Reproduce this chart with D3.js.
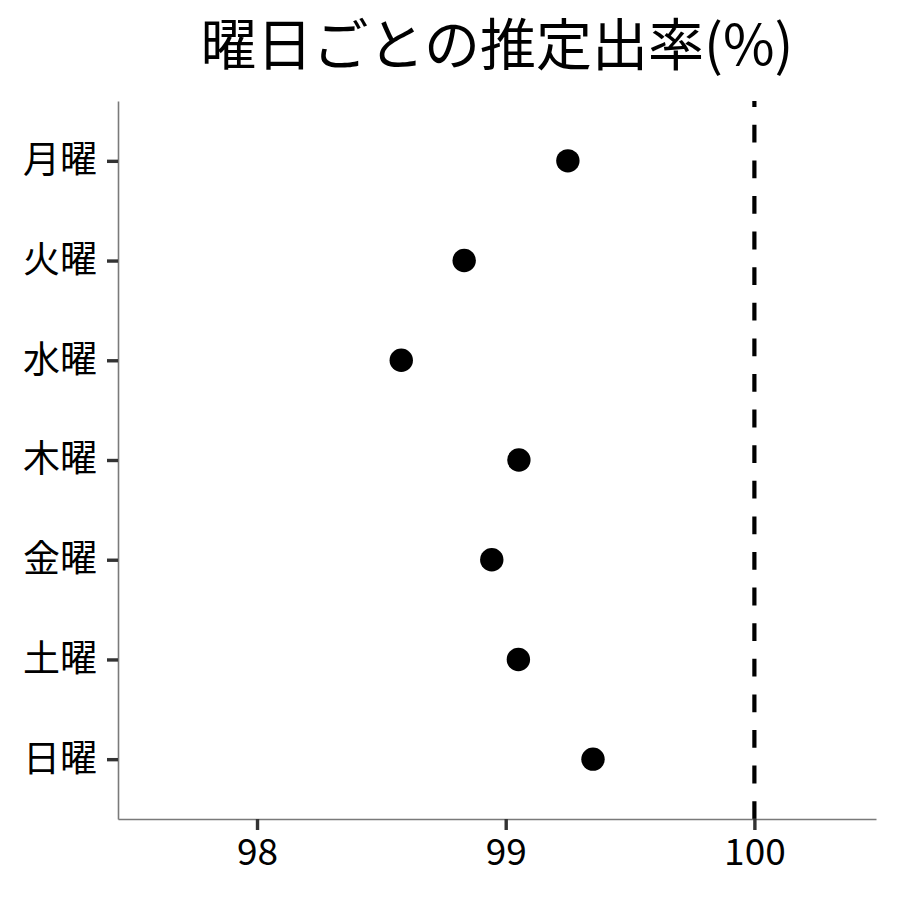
<!DOCTYPE html>
<html>
<head>
<meta charset="utf-8">
<script src="https://cdn.jsdelivr.net/npm/d3@7.9.0/dist/d3.min.js"></script>
<style>
  body { margin: 0; background: #fff; }
  text { font-family: "Noto Sans CJK JP", "Noto Sans", sans-serif; }
</style>
</head>
<body>
<svg id="chart" width="900" height="900"></svg>
<script>
const days = ['月曜', '火曜', '水曜', '木曜', '金曜', '土曜', '日曜'];
const rates = [99.25, 98.833, 98.58, 99.053, 98.944, 99.051, 99.351];
const xTicks = [98, 99, 100];
const refValue = 100;
const title = '曜日ごとの推定出率(%)';

const svg = d3.select('#chart');
const margin = { top: 101, right: 24, bottom: 81, left: 118 };
const width = 900 - margin.left - margin.right;
const height = 900 - margin.top - margin.bottom;

const x = d3.scaleLinear().domain([97.441, 100.489]).range([0, width]);
const y = d3.scalePoint().domain(days).range([0, height]).padding(0.6);

const g = svg.append('g').attr('transform', `translate(${margin.left},${margin.top})`);

// reference line, drawn bottom to top like ggplot
g.append('line')
  .attr('x1', x(refValue))
  .attr('x2', x(refValue))
  .attr('y1', height)
  .attr('y2', 0)
  .attr('stroke', '#000')
  .attr('stroke-width', 4.2)
  .attr('stroke-dasharray', '17.8 17.8');

const xAxis = g.append('g')
  .attr('transform', `translate(0,${height})`)
  .call(d3.axisBottom(x).tickValues(xTicks).tickFormat(d3.format('d'))
    .tickSize(11).tickSizeOuter(0).tickPadding(9));

const yAxis = g.append('g')
  .call(d3.axisLeft(y).tickSize(11).tickSizeOuter(0).tickPadding(10));

[xAxis, yAxis].forEach((ax) => {
  ax.select('.domain').style('stroke', '#7a7a7a').style('stroke-width', '1.6px');
  ax.selectAll('.tick line').style('stroke', '#333').style('stroke-width', '3.4px');
  ax.selectAll('.tick text')
    .attr('fill', '#000')
    .attr('font-size', 37)
    .style('font-family', '"Noto Sans CJK JP", sans-serif');
});

g.selectAll('circle.dot')
  .data(days)
  .join('circle')
  .attr('class', 'dot')
  .attr('cx', (d, i) => x(rates[i]))
  .attr('cy', (d) => y(d))
  .attr('r', 11.7)
  .attr('fill', '#000');

svg.append('text')
  .attr('x', margin.left + width / 2)
  .attr('y', 65)
  .attr('text-anchor', 'middle')
  .attr('font-size', 56)
  .attr('fill', '#000')
  .text(title);
</script>
</body>
</html>
